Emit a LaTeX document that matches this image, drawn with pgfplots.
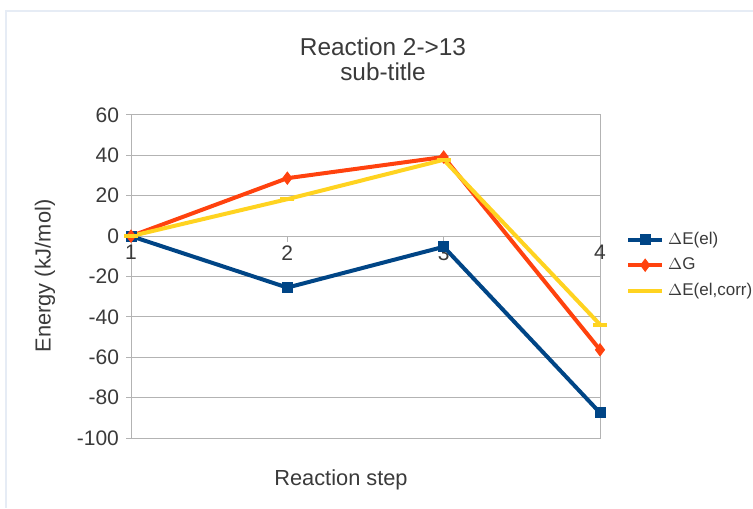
\documentclass[border=0pt]{standalone}
\usepackage{pgfplots}
\pgfplotsset{compat=1.18}
\usepackage{fontspec}
\setmainfont{Liberation Sans}
\definecolor{sBlue}{HTML}{004586}
\definecolor{sOrange}{HTML}{FF420E}
\definecolor{sYellow}{HTML}{FFD320}
\definecolor{gridc}{HTML}{B3B3B3}
\definecolor{txt}{HTML}{3A3A3A}
\definecolor{frame}{HTML}{E6ECF5}
\begin{document}
\begin{tikzpicture}
\path[use as bounding box] (0,0) rectangle (376.5pt,254pt);
\draw[frame, line width=1pt] (3pt,0) -- (3pt,248.5pt) -- (376.5pt,248.5pt);
\begin{axis}[
  at={(65.5pt,35pt)}, anchor=south west,
  width=234.5pt, height=161.5pt, scale only axis,
  xmin=1, xmax=4, ymin=-100, ymax=60,
  xtick=\empty,
  ytick={-100,-80,-60,-40,-20,0,20,40,60},
  yticklabels={-100,-80,-60,-40,-20,0,20,40,60},
  ytick pos=left, tick align=outside, major tick length=2.5pt,
  every tick/.style={gridc, line width=0.5pt},
  yticklabel style={font=\fontsize{10.5}{12}\selectfont, text=txt},
  ymajorgrids, grid style={gridc, line width=0.5pt},
  axis line style={gridc, line width=0.5pt},
  clip=false,
  legend style={at={(1.055,0.535)}, anchor=west, draw=none, fill=none,
    font=\fontsize{8.5}{10}\selectfont, text=txt, row sep=1.2pt,
    inner sep=0pt},
  legend cell align=left,
  legend image code/.code={
    \draw[#1] (0pt,0pt) -- (17pt,0pt);
    \draw[#1, mark repeat=2, mark phase=2] plot coordinates {(0pt,0pt) (8.5pt,0pt) (17pt,0pt)};
  },
]
\addplot[sBlue, line width=2pt, mark=square*, mark size=2.5pt, mark options={solid, line width=0.5pt}]
  coordinates {(1,0) (2,-25.5) (3,-5.3) (4,-87.5)};
\addlegendentry{$\Delta$E(el)}
\addplot[sOrange, line width=2pt, mark=diamond*, mark size=3pt, mark options={solid, line width=0.5pt}]
  coordinates {(1,0) (2,28.7) (3,39.2) (4,-56.3)};
\addlegendentry{$\Delta$G}
\addplot[sYellow, line width=2pt, mark=-, mark size=3.5pt, mark options={solid, line width=2pt}]
  coordinates {(1,0) (2,18.3) (3,37.8) (4,-43.8)};
\addlegendentry{$\Delta$E(el,corr)}
% x tick marks and labels on the zero line
\draw[gridc, line width=0.5pt] (axis cs:2,0) -- ([yshift=-3pt]axis cs:2,0);
\draw[gridc, line width=0.5pt] (axis cs:3,0) -- ([yshift=-3pt]axis cs:3,0);
\node[text=txt, font=\fontsize{10.5}{12}\selectfont, anchor=north, inner sep=0pt] at ([yshift=-4.5pt]axis cs:1,0) {1};
\node[text=txt, font=\fontsize{10.5}{12}\selectfont, anchor=north, inner sep=0pt] at ([yshift=-4.5pt]axis cs:2,0) {2};
\node[text=txt, font=\fontsize{10.5}{12}\selectfont, anchor=north, inner sep=0pt] at ([yshift=-4.5pt]axis cs:3,0) {3};
\node[text=txt, font=\fontsize{10.5}{12}\selectfont, anchor=north, inner sep=0pt] at ([yshift=-4.5pt]axis cs:4,0) {4};
\end{axis}
\node[text=txt, font=\fontsize{12.2}{14}\selectfont] at (191.5pt,230.5pt) {Reaction 2->13};
\node[text=txt, font=\fontsize{12.2}{14}\selectfont] at (191.5pt,218pt) {sub-title};
\node[text=txt, font=\fontsize{10.9}{13}\selectfont, rotate=90] at (22.5pt,116pt) {Energy (kJ/mol)};
\node[text=txt, font=\fontsize{10.9}{13}\selectfont] at (170.5pt,14pt) {Reaction step};
\end{tikzpicture}
\end{document}
